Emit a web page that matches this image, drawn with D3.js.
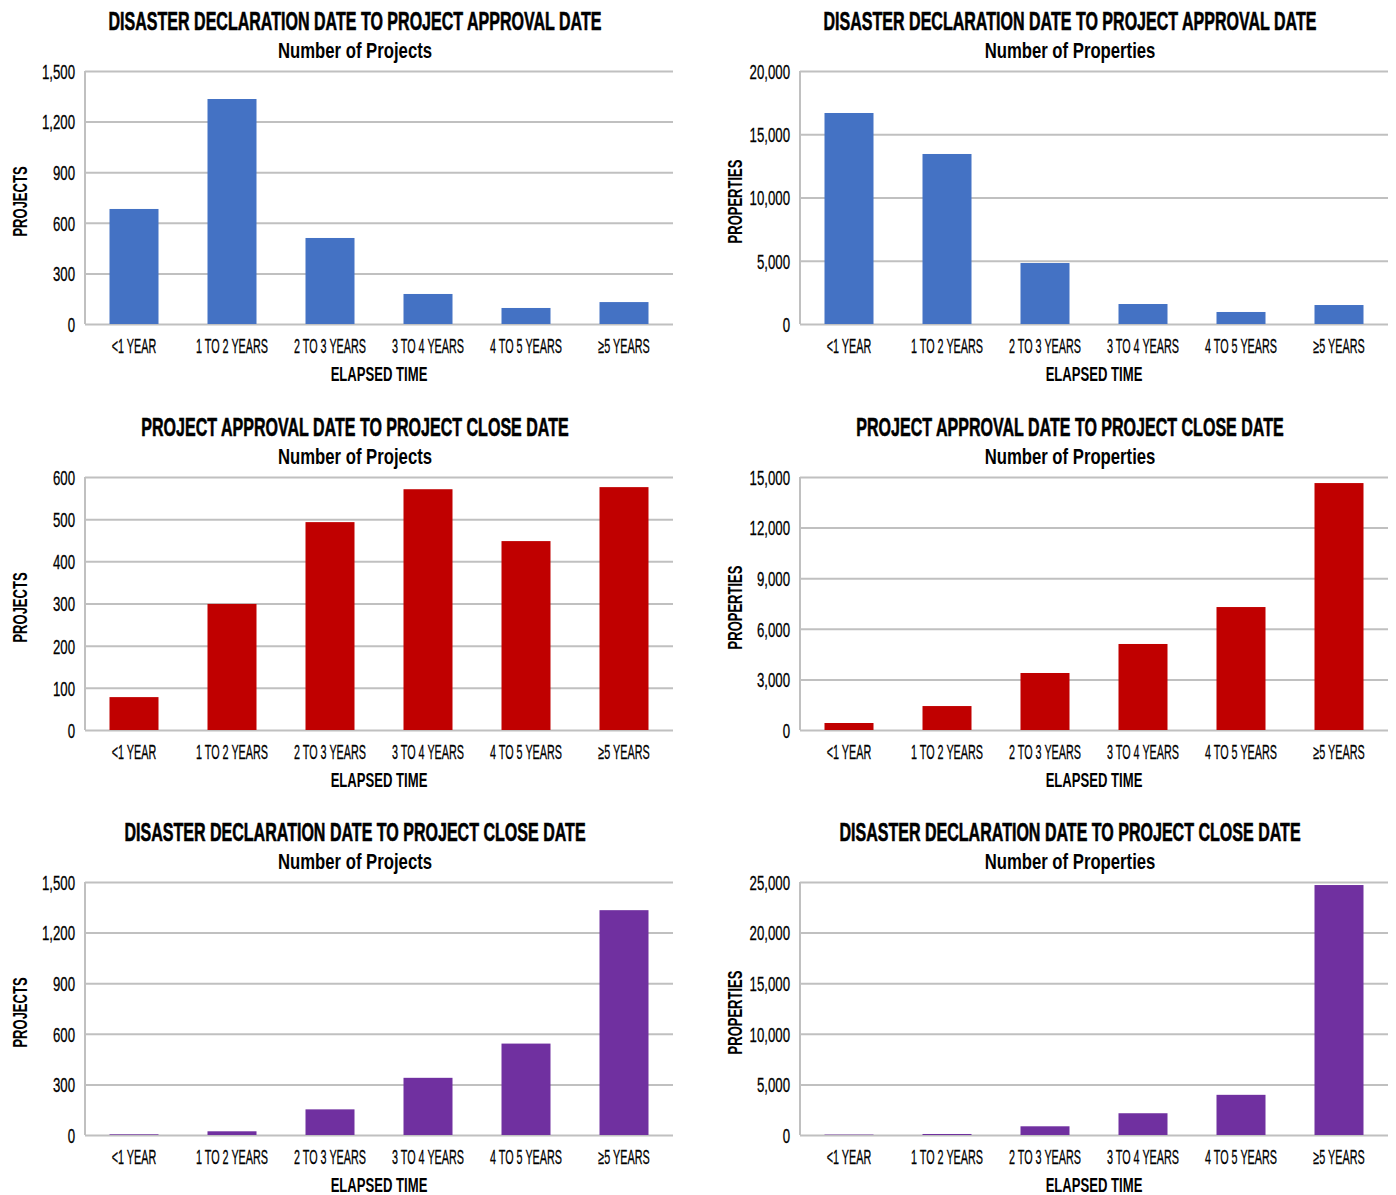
<!DOCTYPE html>
<html>
<head>
<meta charset="utf-8">
<script src="https://cdn.jsdelivr.net/npm/d3@7"></script>
<style>
  body { margin: 0; background: #fff; }
  text { font-family: "Liberation Sans", Arial, sans-serif; fill: #000; }
</style>
</head>
<body>
<div id="chart"></div>
<script>
(function(){
  'use strict';

  var categories = ["<1 YEAR", "1 TO 2 YEARS", "2 TO 3 YEARS", "3 TO 4 YEARS", "4 TO 5 YEARS", "\u22655 YEARS"];

  // disaster declaration -> project approval
  var approvalProjects   = [682, 1334, 510, 178, 95, 130];
  var approvalProperties = [16680, 13440, 4820, 1580, 950, 1500];
  // project approval -> project close
  var closeProjects      = [78, 299, 493, 571, 448, 576];
  var closeProperties    = [415, 1420, 3380, 5100, 7290, 14640];
  // disaster declaration -> project close
  var totalProjects      = [4, 22, 152, 339, 542, 1333];
  var totalProperties    = [40, 100, 860, 2150, 3970, 24700];

  var ticksProjects1500  = [0, 300, 600, 900, 1200, 1500];
  var ticksProperties20k = [0, 5000, 10000, 15000, 20000];
  var ticksProjects600   = [0, 100, 200, 300, 400, 500, 600];
  var ticksProperties15k = [0, 3000, 6000, 9000, 12000, 15000];
  var ticksProperties25k = [0, 5000, 10000, 15000, 20000, 25000];

  var titles = [
    "DISASTER DECLARATION DATE TO PROJECT APPROVAL DATE",
    "PROJECT APPROVAL DATE TO PROJECT CLOSE DATE",
    "DISASTER DECLARATION DATE TO PROJECT CLOSE DATE"
  ];
  var colors = ["#4472c4", "#c00000", "#7030a0"];

  var panels = [
    {row: 0, col: 0, values: approvalProjects,   ticks: ticksProjects1500,  sub: "Number of Projects",   yTitle: "PROJECTS"},
    {row: 0, col: 1, values: approvalProperties, ticks: ticksProperties20k, sub: "Number of Properties", yTitle: "PROPERTIES"},
    {row: 1, col: 0, values: closeProjects,      ticks: ticksProjects600,   sub: "Number of Projects",   yTitle: "PROJECTS"},
    {row: 1, col: 1, values: closeProperties,    ticks: ticksProperties15k, sub: "Number of Properties", yTitle: "PROPERTIES"},
    {row: 2, col: 0, values: totalProjects,      ticks: ticksProjects1500,  sub: "Number of Projects",   yTitle: "PROJECTS"},
    {row: 2, col: 1, values: totalProperties,    ticks: ticksProperties25k, sub: "Number of Properties", yTitle: "PROPERTIES"}
  ];

  var width = 1396,
      height = 1195,
      plotW = 588,
      plotH = 253,
      colLeft = [85, 800],
      rowTop = [71, 477, 882],
      grid = "#c0c0c0",
      fmt = d3.format(",");

  var svg = d3.select("#chart")
    .append("svg")
    .attr("width", width)
    .attr("height", height);

  // the reference font is very condensed, so squeeze glyphs horizontally
  function label(g, str, x, y, size, weight, k, rotate) {
    return g.append("text")
      .text(str)
      .attr("text-anchor", "middle")
      .style("font-size", size + "px")
      .style("font-weight", weight)
      .attr("transform", "translate(" + x + "," + y + ")" + (rotate ? " rotate(-90)" : "") + " scale(" + k + ",1)");
  }

  panels.forEach(function(p){
    var g = svg.append("g")
      .attr("transform", "translate(" + colLeft[p.col] + "," + rowTop[p.row] + ")");

    var x = d3.scaleBand()
      .domain(categories)
      .range([0, plotW])
      .paddingInner(0.5)
      .paddingOuter(0.25);

    var y = d3.scaleLinear()
      .domain([0, d3.max(p.ticks)])
      .range([plotH, 0]);

    // gridlines
    g.append("g")
      .call(d3.axisLeft(y).tickValues(p.ticks).tickSize(-plotW).tickFormat(""))
      .call(function(a){
        a.select(".domain").remove();
        a.selectAll("line").attr("stroke", grid).attr("stroke-width", 2);
      });

    // left axis line
    g.append("line")
      .attr("x1", 0).attr("x2", 0)
      .attr("y1", 0).attr("y2", plotH)
      .attr("stroke", grid)
      .attr("stroke-width", 2);

    // bars
    g.selectAll(".bar")
      .data(p.values)
      .enter()
      .append("rect")
      .attr("class", "bar")
      .attr("x", function(d, i){ return x(categories[i]); })
      .attr("width", x.bandwidth())
      .attr("y", function(d){ return y(d); })
      .attr("height", function(d){ return plotH - y(d); })
      .style("fill", colors[p.row]);

    // y tick labels
    g.append("g")
      .call(d3.axisLeft(y).tickValues(p.ticks).tickSize(0).tickFormat(fmt))
      .call(function(a){
        a.select(".domain").remove();
        a.selectAll("text")
          .attr("x", null).attr("dy", "0.35em")
          .attr("transform", "translate(-10,0) scale(0.63,1)")
          .style("font-size", "21px")
          .style("font-family", null)
          .attr("fill", "#000")
          .attr("stroke", "#000")
          .attr("stroke-width", 0.3);
      });

    // x tick labels
    g.append("g")
      .attr("transform", "translate(0," + plotH + ")")
      .call(d3.axisBottom(x).tickSize(0))
      .call(function(a){
        a.select(".domain").remove();
        a.selectAll("text")
          .attr("y", null).attr("dy", null)
          .attr("transform", "translate(0,29) scale(0.54,1)")
          .style("font-size", "20px")
          .style("font-family", null)
          .attr("fill", "#000")
          .attr("stroke", "#000")
          .attr("stroke-width", 0.3);
      });

    label(g, titles[p.row], 270, -41, 26, "bold", 0.617)
      .attr("stroke", "#000").attr("stroke-width", 0.6);
    label(g, p.sub, 270, -13, 22, "bold", 0.76);
    label(g, "ELAPSED TIME", plotW / 2, plotH + 57, 20, "bold", 0.655);
    label(g, p.yTitle, -58, plotH / 2 + 4, 21, "bold", 0.62, true);
  });
})();
</script>
</body>
</html>
